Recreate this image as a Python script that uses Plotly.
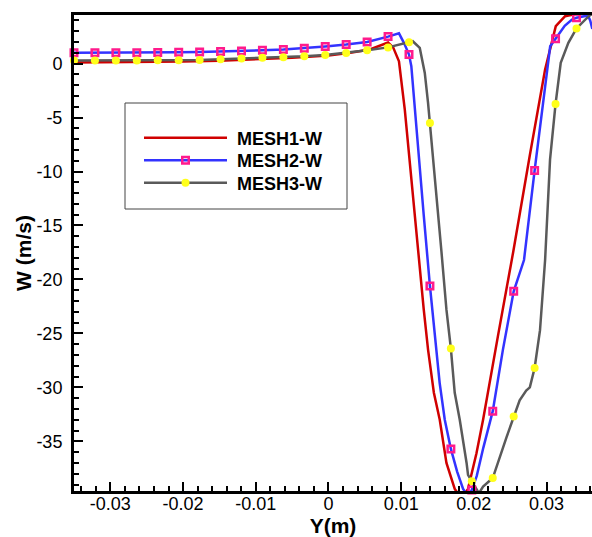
import plotly.graph_objects as go

# ---------------- data ----------------
marker_x = [-0.035, -0.03212, -0.02924, -0.02636, -0.02348, -0.0206, -0.01772, -0.01484,
            -0.01196, -0.00908, -0.0062, -0.00332, -0.00044, 0.00244, 0.00532, 0.0082,
            0.01108, 0.01396, 0.01684, 0.01972, 0.0226, 0.02548, 0.02836, 0.03124, 0.03412]
mesh2_marker_w = [1.0, 1.0, 1.0, 1.01, 1.03, 1.05, 1.08, 1.11, 1.16, 1.23, 1.3, 1.42, 1.58,
                  1.76, 2.0, 2.5, 0.83, -20.6, -35.7, -39.5, -32.2, -21.1, -9.9, 2.3, 4.25]
mesh3_marker_w = [0.28, 0.28, 0.28, 0.29, 0.3, 0.31, 0.34, 0.4, 0.46, 0.53, 0.58, 0.68, 0.8,
                  0.99, 1.23, 1.5, 1.98, -5.5, -26.4, -38.7, -38.4, -32.7, -28.2, -3.74, 3.25]

mesh1_y = [-0.035, -0.03, -0.025, -0.02, -0.015, -0.01, -0.005, 0.0, 0.003, 0.0057, 0.0071,
           0.0082, 0.0089, 0.0097, 0.0105, 0.0112, 0.01233, 0.01311, 0.0137, 0.0145, 0.01531,
           0.01623, 0.01737, 0.0183, 0.0192, 0.02036, 0.02127, 0.0233, 0.0254, 0.0277, 0.0298,
           0.03127, 0.03255, 0.034, 0.0363]
mesh1_w = [0.1, 0.12, 0.15, 0.2, 0.27, 0.38, 0.55, 0.75, 1.0, 1.3, 1.7,
           1.95, 1.5, 0.21, -4.27, -9.5, -17.25, -22.8, -26.5, -30.5, -33.0,
           -37.0, -39.4, -40.3, -39.4, -36.1, -33.0, -25.3, -17.5, -8.5, -0.56,
           3.46, 4.39, 4.6, 4.6]

mesh2_y = [-0.035, -0.03212, -0.02924, -0.02636, -0.02348, -0.0206, -0.01772, -0.01484,
           -0.01196, -0.00908, -0.0062, -0.00332, -0.00044, 0.00244, 0.00532, 0.0082,
           0.0097, 0.0104, 0.01108, 0.0114, 0.0119, 0.0125, 0.0131, 0.01396, 0.0146, 0.0153,
           0.016, 0.01684, 0.0177, 0.01852, 0.0192, 0.01972, 0.0204, 0.0213, 0.0226, 0.024,
           0.02548, 0.0269, 0.02836, 0.0298, 0.0305, 0.03124, 0.0325, 0.0335, 0.03412,
           0.0357, 0.036, 0.0363]
mesh2_w = [1.0, 1.0, 1.0, 1.01, 1.03, 1.05, 1.08, 1.11,
           1.16, 1.23, 1.3, 1.42, 1.58, 1.76, 2.0, 2.5,
           2.8, 1.9, 0.83, -0.25, -4.5, -9.0, -14.0, -20.6, -25.0, -29.6,
           -33.0, -35.7, -37.8, -39.4, -40.1, -39.5, -38.2, -35.6, -32.2, -26.5,
           -21.1, -18.2, -9.9, -2.1, 1.6, 2.3, 3.5, 4.08, 4.25,
           4.45, 4.0, 3.2]

mesh3_y = [-0.035, -0.03212, -0.02924, -0.02636, -0.02348, -0.0206, -0.01772, -0.01484,
           -0.01196, -0.00908, -0.0062, -0.00332, -0.00044, 0.00244, 0.00532, 0.0082,
           0.01108, 0.0116, 0.01256, 0.01325, 0.0137, 0.01396, 0.0148, 0.01554, 0.01623,
           0.01684, 0.01737, 0.01806, 0.019, 0.0192, 0.01972, 0.02036, 0.0207, 0.02127,
           0.0226, 0.0245, 0.02548, 0.0263, 0.0272, 0.0277, 0.02836, 0.0291, 0.0298,
           0.03048, 0.03124, 0.03195, 0.033, 0.03412, 0.0358, 0.0363]
mesh3_w = [0.28, 0.28, 0.28, 0.29, 0.3, 0.31, 0.34, 0.4,
           0.46, 0.53, 0.58, 0.68, 0.8, 0.99, 1.23, 1.5,
           1.98, 2.07, 1.45, -0.87, -3.65, -5.5, -12.0, -17.4, -22.8,
           -26.4, -30.5, -33.0, -37.0, -38.1, -38.7, -39.4, -39.8, -39.2,
           -38.4, -34.6, -32.7, -31.2, -30.3, -30.0, -28.2, -24.7, -18.2,
           -8.9, -3.74, 0.06, 1.92, 3.25, 4.39, 4.6]

series_names = ["MESH1-W", "MESH2-W", "MESH3-W"]
x_tickvals = [-0.03, -0.02, -0.01, 0, 0.01, 0.02, 0.03]
x_ticktext = ["-0.03", "-0.02", "-0.01", "0", "0.01", "0.02", "0.03"]
y_tickvals = [0, -5, -10, -15, -20, -25, -30, -35]
y_ticktext = ["0", "-5", "-10", "-15", "-20", "-25", "-30", "-35"]

# ---------------- styles ----------------
RED = "#d00000"
BLUE = "#3333ff"
GRAY = "#5a5a5a"
PINK = "#ff1a8c"
YELLOW = "#ffff1a"
LW = 2.5

pink_marker = dict(symbol="square-open", size=6.5, color=PINK, line=dict(width=2.5, color=PINK))
yellow_marker = dict(symbol="circle", size=8, color=YELLOW, line=dict(width=0))

L, T, W, H = 74, 15, 518, 476


def px_x(p):
    return (p - L) / W


def px_y(p):
    return (T + H - p) / H


FONT = "Liberation Sans, Arial, sans-serif"
NB = "\u00a0"

fig = go.Figure()
# lines
fig.add_trace(go.Scatter(x=mesh1_y, y=mesh1_w, mode="lines", line=dict(color=RED, width=LW),
                         showlegend=False, hoverinfo="skip"))
fig.add_trace(go.Scatter(x=mesh2_y, y=mesh2_w, mode="lines", line=dict(color=BLUE, width=LW),
                         showlegend=False, hoverinfo="skip"))
fig.add_trace(go.Scatter(x=mesh3_y, y=mesh3_w, mode="lines", line=dict(color=GRAY, width=LW),
                         showlegend=False, hoverinfo="skip"))
# markers
fig.add_trace(go.Scatter(x=marker_x, y=mesh2_marker_w, mode="markers", marker=pink_marker,
                         showlegend=False, cliponaxis=False, hoverinfo="skip"))
fig.add_trace(go.Scatter(x=marker_x, y=mesh3_marker_w, mode="markers", marker=yellow_marker,
                         showlegend=False, cliponaxis=False, hoverinfo="skip"))
# legend entries (one legend per row for exact spacing)
fig.add_trace(go.Scatter(x=[None], y=[None], mode="lines", name=NB + series_names[0],
                         line=dict(color=RED, width=LW), legend="legend"))
fig.add_trace(go.Scatter(x=[None], y=[None], mode="lines+markers", name=NB + series_names[1],
                         line=dict(color=BLUE, width=LW), marker=pink_marker, legend="legend2"))
fig.add_trace(go.Scatter(x=[None], y=[None], mode="lines+markers", name=NB + series_names[2],
                         line=dict(color=GRAY, width=LW), marker=yellow_marker, legend="legend3"))

legend_font = dict(family=FONT, size=18, color="black", weight="bold")


def legend_at(top_px):
    return dict(x=px_x(139), y=px_y(top_px), xanchor="left", yanchor="top",
                bgcolor="rgba(0,0,0,0)", borderwidth=0, itemwidth=83,
                font=legend_font, tracegroupgap=0)


fig.update_layout(
    width=592, height=537,
    margin=dict(l=L, r=592 - L - W, t=T, b=537 - T - H, pad=0),
    paper_bgcolor="white", plot_bgcolor="white",
    font=dict(family=FONT, size=18, color="black"),
    showlegend=True,
    legend=legend_at(119.5),
    legend2=legend_at(142),
    legend3=legend_at(164.5),
    shapes=[dict(type="rect", xref="paper", yref="paper",
                 x0=px_x(125), x1=px_x(347), y0=px_y(209), y1=px_y(103),
                 line=dict(color="#444444", width=1), fillcolor="white", layer="above")],
)

fig.update_xaxes(
    range=[-0.035, -0.035 + W / 7270.0],
    tickmode="array", tickvals=x_tickvals, ticktext=x_ticktext,
    ticks="inside", ticklen=9, tickwidth=2, tickcolor="black",
    minor=dict(tickmode="linear", tick0=0, dtick=0.002, ticks="inside", ticklen=5,
               tickwidth=1.5, tickcolor="black"),
    showline=True, linewidth=3, linecolor="black", mirror=True,
    showgrid=False, zeroline=False,
    tickfont=dict(family=FONT, size=18, color="black"),
    ticklabelstandoff=-6,
    title=dict(text="Y(m)", font=dict(family=FONT, size=21, color="black", weight="bold"),
               standoff=4),
)
fig.update_yaxes(
    range=[-39.6, 4.5],
    tickmode="array", tickvals=y_tickvals, ticktext=y_ticktext,
    ticks="inside", ticklen=9, tickwidth=2, tickcolor="black",
    minor=dict(tickmode="linear", tick0=0, dtick=1, ticks="inside", ticklen=5,
               tickwidth=1.5, tickcolor="black"),
    showline=True, linewidth=3, linecolor="black", mirror=False,
    showgrid=False, zeroline=False,
    tickfont=dict(family=FONT, size=18, color="black"),
    ticklabelstandoff=5,
    title=dict(text="W (m/s)", font=dict(family=FONT, size=21, color="black", weight="bold"),
               standoff=0),
)

fig.write_html("out.html")
